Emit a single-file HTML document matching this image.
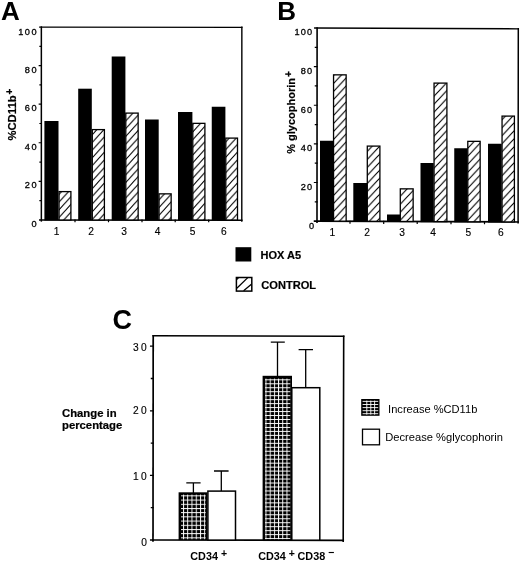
<!DOCTYPE html>
<html>
<head>
<meta charset="utf-8">
<title>Figure</title>
<style>
html,body{margin:0;padding:0;background:#fff;}
body{width:520px;height:561px;overflow:hidden;}
svg{display:block;filter:blur(0.3px);}
text{font-family:"Liberation Sans",sans-serif;fill:#000;}
.b{font-weight:bold;}
.tk{font-size:9.2px;letter-spacing:1.5px;stroke:#000;stroke-width:0.3px;}
.tkb{font-size:9.2px;letter-spacing:1.1px;stroke:#000;stroke-width:0.3px;}
.tkc{font-size:10.2px;letter-spacing:2.5px;stroke:#000;stroke-width:0.15px;}
.xl{font-size:10.2px;stroke:#000;stroke-width:0.15px;}
.big{font-size:26px;font-weight:bold;}
.lg{font-size:11px;font-weight:bold;stroke:#000;stroke-width:0.2px;}
.lr{font-size:11px;}
.ln{stroke:#000;fill:none;stroke-linecap:square;}
.blk{fill:#000;}
.hat{fill:url(#hatA);stroke:#000;stroke-width:1.3;}
.hatB{fill:url(#hatB);stroke:#000;stroke-width:1.3;}
.wht{fill:#fff;stroke:#000;stroke-width:1.5;}
.err{stroke:#000;stroke-width:1.3;fill:none;}
</style>
</head>
<body>
<svg width="520" height="561" viewBox="0 0 520 561">
<defs>
  <pattern id="hatA" patternUnits="userSpaceOnUse" width="7.0" height="7.7" patternTransform="translate(44,3)">
    <rect width="7.0" height="7.7" fill="#fff"/>
    <path d="M-2.00,2.20 L9.00,-9.90 M-2.00,9.90 L9.00,-2.20 M-2.00,17.60 L9.00,5.50" stroke="#000" stroke-width="1.1" fill="none"/>
  </pattern>
  <pattern id="hatB" patternUnits="userSpaceOnUse" width="7.5" height="8.0" patternTransform="translate(333,4)">
    <rect width="7.5" height="8.0" fill="#fff"/>
    <path d="M-2.00,2.13 L9.50,-10.13 M-2.00,10.13 L9.50,-2.13 M-2.00,18.13 L9.50,5.87" stroke="#000" stroke-width="1.1" fill="none"/>
  </pattern>
  <pattern id="chk1" patternUnits="userSpaceOnUse" width="4.25" height="4.2" patternTransform="translate(183.0,495.4)">
    <rect width="4.25" height="4.2" fill="#000"/>
    <rect x="0" y="0" width="0.95" height="4.2" fill="#fff"/>
    <rect x="0" y="0" width="4.25" height="0.95" fill="#fff"/>
  </pattern>
  <pattern id="chk2" patternUnits="userSpaceOnUse" width="4.2" height="3.97" patternTransform="translate(265.5,379.3)">
    <rect width="4.2" height="3.97" fill="#000"/>
    <rect x="0" y="0" width="0.95" height="3.97" fill="#fff"/>
    <rect x="0" y="0" width="4.2" height="0.95" fill="#fff"/>
  </pattern>
</defs>
<rect x="0" y="0" width="520" height="561" fill="#fff"/>

<!-- ================= Panel A ================= -->
<g id="panelA">
  <text class="big" x="0.9" y="19.7">A</text>
  <path class="ln" stroke-width="1.3" d="M39.75,27.05 L241.85,27.3"/>
  <path class="ln" stroke-width="1.4" d="M241.85,27.3 L241.8,221.05"/>
  <path class="ln" stroke-width="1.5" d="M41.35,27.05 L41.35,220.9"/>
  <path class="ln" stroke-width="1.5" d="M39.75,219.9 L241.8,220.25"/>
  <path class="ln" stroke-width="1.2" stroke-linecap="butt" d="M39.25,65.62 H41.35 M39.25,104.19 H41.35 M39.25,142.76 H41.35 M39.25,181.33 H41.35 M39.95,46.34 H41.35 M39.95,84.91 H41.35 M39.95,123.48 H41.35 M39.95,162.05 H41.35 M39.95,200.62 H41.35"/>
  <path class="ln" stroke-width="1.2" d="M75.0,220 V221.7 M108.5,220 V221.7 M142,220 V221.7 M175.2,220 V221.7 M208.7,220 V221.7"/>
  <text class="tk" text-anchor="end" x="38.1" y="34.6">100</text>
  <text class="tk" text-anchor="end" x="38.1" y="72.7">80</text>
  <text class="tk" text-anchor="end" x="38.1" y="111.3">60</text>
  <text class="tk" text-anchor="end" x="38.1" y="149.8">40</text>
  <text class="tk" text-anchor="end" x="38.1" y="188.4">20</text>
  <text class="tk" text-anchor="end" x="38.1" y="226.6">0</text>
  <rect class="blk" x="44.4" y="121.0" width="14.10" height="99.50"/>
  <rect class="hat" x="59.05" y="191.6" width="11.85" height="28.40"/>
  <rect class="blk" x="78.2" y="88.7" width="13.60" height="131.80"/>
  <rect class="hat" x="92.3" y="129.6" width="12.10" height="90.40"/>
  <rect class="blk" x="111.7" y="56.5" width="13.70" height="164.00"/>
  <rect class="hat" x="125.8" y="113.1" width="12.35" height="106.90"/>
  <rect class="blk" x="145.0" y="119.5" width="13.70" height="101.00"/>
  <rect class="hat" x="159.05" y="193.85" width="12.10" height="26.15"/>
  <rect class="blk" x="178.0" y="112.0" width="14.40" height="108.50"/>
  <rect class="hat" x="192.8" y="123.35" width="12.10" height="96.65"/>
  <rect class="blk" x="211.75" y="106.75" width="13.65" height="113.75"/>
  <rect class="hat" x="225.8" y="138.1" width="11.70" height="81.90"/>
  <text class="xl" text-anchor="middle" x="56.5" y="234.9">1</text>
  <text class="xl" text-anchor="middle" x="91" y="234.9">2</text>
  <text class="xl" text-anchor="middle" x="124" y="234.9">3</text>
  <text class="xl" text-anchor="middle" x="157.5" y="234.9">4</text>
  <text class="xl" text-anchor="middle" x="192.5" y="234.9">5</text>
  <text class="xl" text-anchor="middle" x="223.8" y="234.9">6</text>
  <g transform="translate(16.3,140.6) rotate(-90)">
    <text class="lg" style="font-size:11.3px" x="0" y="0">%CD11b<tspan dy="-3" dx="0.8" font-size="10px">+</tspan></text>
  </g>
</g>

<!-- ================= Panel B ================= -->
<g id="panelB">
  <text class="big" x="277.3" y="19.5">B</text>
  <path class="ln" stroke-width="1.3" d="M314.70000000000005,28.0 L518.3,28.8"/>
  <path class="ln" stroke-width="1.5" d="M518.3,28.8 L518.1,222.8"/>
  <path class="ln" stroke-width="1.6" d="M317.1,28.0 L317.0,222.1"/>
  <path class="ln" stroke-width="1.7" d="M314.6,221.1 L518.1,222.0"/>
  <path class="ln" stroke-width="1.2" stroke-linecap="butt" d="M314.45,66.62 H317.05 M314.45,105.24 H317.05 M314.45,143.86 H317.05 M314.45,182.48 H317.05 M315.35,47.31 H317.05 M315.35,85.93 H317.05 M315.35,124.55 H317.05 M315.35,163.17 H317.05 M315.35,201.79 H317.05"/>
  <path class="ln" stroke-width="1.2" d="M350,221.25 V223.15 M383.7,221.40 V223.30 M417.2,221.55 V223.45 M451,221.70 V223.60 M484.5,221.85 V223.75"/>
  <text class="tkb" text-anchor="end" x="313.2" y="34.6">100</text>
  <text class="tkb" text-anchor="end" x="313.2" y="74.1">80</text>
  <text class="tkb" text-anchor="end" x="313.2" y="112.6">60</text>
  <text class="tkb" text-anchor="end" x="313.2" y="151.1">40</text>
  <text class="tkb" text-anchor="end" x="313.2" y="189.8">20</text>
  <text class="tkb" text-anchor="end" x="315.1" y="228.9">0</text>
  <rect class="blk" x="320.0" y="140.75" width="13.20" height="80.96"/>
  <rect class="hatB" x="333.55" y="74.85" width="12.60" height="146.32"/>
  <rect class="blk" x="353.3" y="183.0" width="13.70" height="38.86"/>
  <rect class="hatB" x="367.3" y="146.1" width="12.60" height="75.22"/>
  <rect class="blk" x="387.0" y="214.5" width="13.00" height="7.51"/>
  <rect class="hatB" x="400.3" y="188.85" width="12.85" height="32.62"/>
  <rect class="blk" x="420.5" y="163.0" width="13.20" height="59.16"/>
  <rect class="hatB" x="434.05" y="83.1" width="12.85" height="138.52"/>
  <rect class="blk" x="454.25" y="148.25" width="13.25" height="74.06"/>
  <rect class="hatB" x="467.8" y="141.35" width="12.35" height="80.42"/>
  <rect class="blk" x="488.0" y="143.75" width="13.70" height="78.72"/>
  <rect class="hatB" x="502.05" y="116.1" width="12.35" height="105.83"/>
  <text class="xl" text-anchor="middle" x="332.3" y="235.7">1</text>
  <text class="xl" text-anchor="middle" x="367" y="235.7">2</text>
  <text class="xl" text-anchor="middle" x="402" y="235.7">3</text>
  <text class="xl" text-anchor="middle" x="433" y="235.7">4</text>
  <text class="xl" text-anchor="middle" x="468.3" y="235.7">5</text>
  <text class="xl" text-anchor="middle" x="500.8" y="235.7">6</text>
  <g transform="translate(295.3,153.8) rotate(-90)">
    <text class="lg" x="0" y="0">% glycophorin<tspan dy="-3.5" dx="1" font-size="10px">+</tspan></text>
  </g>
</g>

<!-- ================= Legend A/B ================= -->
<g id="legendAB">
  <rect x="235.5" y="247.2" width="15.8" height="14.3" fill="#000"/>
  <text class="lg" x="260.6" y="258.8">HOX A5</text>
  <rect x="236.4" y="277.5" width="15.4" height="13.6" fill="#fff" stroke="#000" stroke-width="1.5"/>
  <path d="M236.8,288.3 L247.8,277.6 M243.6,290.8 L251.4,284.2 M236.6,279.6 L238.6,277.6" stroke="#000" stroke-width="1.3" fill="none"/>
  <text class="lg" style="font-size:11.1px" x="261.3" y="289">CONTROL</text>
</g>

<!-- ================= Panel C ================= -->
<g id="panelC">
  <text class="big" style="font-size:27px" x="112.6" y="329.4">C</text>
  <path class="ln" stroke-width="1.5" d="M153.2,335.8 L343.7,336.2"/>
  <path class="ln" stroke-width="1.6" d="M343.7,336.2 L343.2,541.1999999999999"/>
  <path class="ln" stroke-width="1.7" d="M153.2,335.8 L153.0,541.0"/>
  <path class="ln" stroke-width="1.7" d="M153.0,540.0 L343.2,540.4"/>
  <path class="ln" stroke-width="1.3" stroke-linecap="butt" d="M150.6,346.20 H153.1 M150.6,410.80 H153.1 M150.6,475.40 H153.1 M150.6,540.00 H153.1 M151.4,378.50 H153.1 M151.4,443.10 H153.1 M151.4,507.70 H153.1"/>
  <text class="tkc" text-anchor="end" x="149.3" y="350.8">30</text>
  <text class="tkc" text-anchor="end" x="149.3" y="414.0">20</text>
  <text class="tkc" text-anchor="end" x="149.3" y="479.8">10</text>
  <text class="tkc" text-anchor="end" x="149.3" y="545.5">0</text>
  <rect x="178.6" y="492.3" width="28.8" height="47.8" fill="#000"/>
  <rect x="181" y="494.6" width="24.7" height="44.6" fill="url(#chk1)"/>
  <rect class="wht" x="207.9" y="491.1" width="27.6" height="49"/>
  <rect x="262.6" y="375.8" width="29.4" height="164.4" fill="#000"/>
  <rect x="265" y="378.6" width="25.3" height="160.6" fill="url(#chk2)"/>
  <rect class="wht" x="291.8" y="387.7" width="28" height="152.5"/>
  <path class="err" d="M193.4,492.9 V482.8 M186.3,482.8 H200.6"/>
  <path class="err" d="M221.3,491.1 V471 M214,471 H228.6"/>
  <path class="err" d="M277.5,376.4 V342.1 M270.8,342.1 H284.8"/>
  <path class="err" d="M305.7,387.7 V349.7 M298.6,349.7 H313"/>
  <text class="b" style="font-size:10.8px" x="190.3" y="560.1">CD34 <tspan dy="-3" dx="0" font-size="10.5px">+</tspan></text>
  <text class="b" style="font-size:10.8px" x="258.2" y="560.1">CD34 <tspan dy="-3" dx="0" font-size="10.5px">+</tspan><tspan dy="3" dx="2.6">CD38 </tspan><tspan dy="-4.6" dx="-0.2" font-size="10.5px">−</tspan></text>
  <text class="lg" style="font-size:11.3px" x="62" y="416.8">Change in</text>
  <text class="lg" style="font-size:11.3px" x="62" y="428.6">percentage</text>
  <rect x="361.2" y="399" width="18.3" height="16.8" fill="#000"/>
  <path d="M366.8,400.6 V414.6 M370.8,400.6 V414.6 M374.6,400.6 V414.6" stroke="#fff" stroke-width="0.9" fill="none"/>
  <path d="M362.6,401.4 H378.2 M362.6,404.5 H378.2 M362.6,407.6 H378.2 M362.6,410.7 H378.2 M362.6,413.7 H378.2" stroke="#fff" stroke-width="0.9" fill="none"/>
  <text class="lr" style="font-size:11.1px" x="388.1" y="413">Increase %CD11b</text>
  <rect x="362.5" y="429.2" width="17" height="15.6" fill="#fff" stroke="#000" stroke-width="1.3"/>
  <text class="lr" style="font-size:11.15px" x="385.3" y="441">Decrease %glycophorin</text>
</g>
</svg>
</body>
</html>
